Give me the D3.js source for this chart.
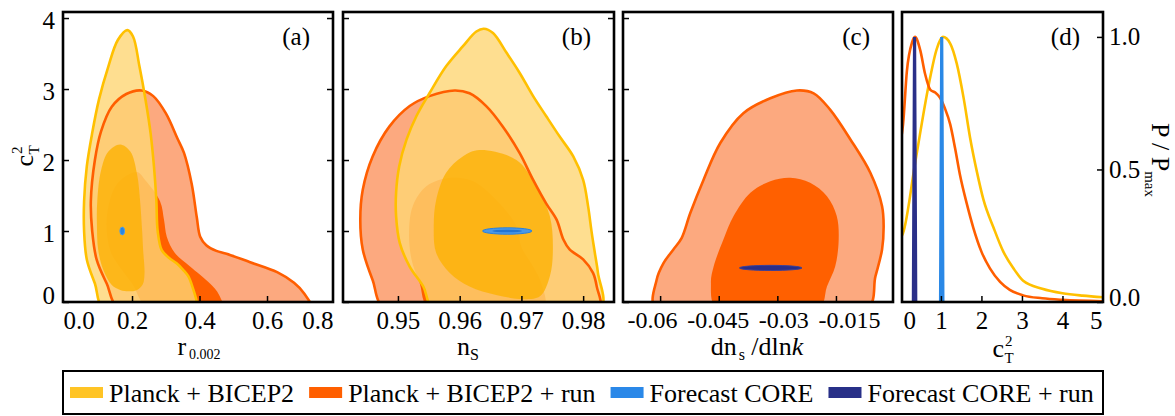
<!DOCTYPE html>
<html>
<head>
<meta charset="utf-8">
<script src="https://cdn.jsdelivr.net/npm/d3@7"></script>
<style>
  body { margin: 0; background: #fff; }
  svg { display: block; font-family: "Liberation Serif", "Times New Roman", serif; }
</style>
</head>
<body>
<svg id="chart" width="1175" height="416"></svg>
<script>
// ---- tick values ----
const rTicks = [0.0, 0.2, 0.4, 0.6, 0.8];
const nsTicks = [0.95, 0.96, 0.97, 0.98];
const runTicks = [-0.06, -0.045, -0.03, -0.015];
const c2Ticks = [0, 1, 2, 3, 4];
const c1Ticks = [0, 1, 2, 3, 4, 5];
const pTicks = [0.0, 0.5, 1.0];

// ---- legend ----
const legendNames = ["Planck + BICEP2", "Planck + BICEP2 + run", "Forecast CORE", "Forecast CORE + run"];
const legendColors = ["#ffc425", "#ff5f00", "#2a88e8", "#283088"];

// ---- panel (a): r_0.002 vs c_T^2 ----
const aPlanckOuter = [[0.118,-0.1],[0.09,0.26],[0.066,0.6],[0.058,1.0],[0.058,1.42],[0.066,1.91],[0.082,2.38],[0.102,2.85],[0.13,3.32],[0.158,3.69],[0.186,3.83],[0.203,3.74],[0.222,3.32],[0.24,2.85],[0.255,2.38],[0.265,1.91],[0.272,1.44],[0.276,1.0],[0.288,0.73],[0.31,0.62],[0.332,0.545],[0.352,0.45],[0.367,0.36],[0.382,0.17],[0.392,0.0],[0.394,-0.1]];
const aPlanckInner = [[0.165,2.22],[0.195,2.12],[0.215,1.8],[0.224,1.42],[0.23,1.0],[0.233,0.73],[0.237,0.4],[0.232,0.25],[0.215,0.17],[0.19,0.15],[0.165,0.17],[0.14,0.24],[0.115,0.45],[0.1,0.73],[0.096,1.1],[0.097,1.42],[0.108,1.85],[0.13,2.12]];
const aRunOuter = [[0.165,-0.1],[0.125,0.26],[0.095,0.6],[0.082,1.0],[0.078,1.42],[0.09,2.0],[0.108,2.4],[0.14,2.75],[0.183,2.93],[0.228,2.98],[0.263,2.9],[0.3,2.66],[0.335,2.3],[0.354,2.1],[0.377,1.66],[0.392,1.19],[0.402,0.92],[0.42,0.8],[0.45,0.72],[0.48,0.68],[0.55,0.56],[0.63,0.42],[0.68,0.27],[0.71,0.12],[0.73,-0.1]];
const aRunInner = [[0.25,-0.1],[0.2,0.26],[0.155,0.55],[0.135,0.73],[0.125,1.19],[0.155,1.66],[0.214,1.83],[0.24,1.71],[0.283,1.42],[0.295,1.15],[0.303,0.92],[0.327,0.69],[0.372,0.5],[0.431,0.26],[0.458,0.1],[0.468,-0.1]];
const aCore = [0.171, 1.0, 0.007, 0.055];     // cx, cy, rx, ry

// ---- panel (b): n_s vs c_T^2 ----
const bPlanckOuter = [[0.9559,-0.1],[0.9541,0.22],[0.9519,0.5],[0.9503,0.83],[0.9497,1.21],[0.9497,1.54],[0.9502,1.91],[0.9514,2.29],[0.953,2.62],[0.9551,2.94],[0.9578,3.32],[0.9605,3.6],[0.9627,3.81],[0.9639,3.85],[0.9654,3.79],[0.9676,3.51],[0.9697,3.23],[0.9719,2.9],[0.974,2.62],[0.9762,2.33],[0.9784,2.05],[0.98,1.72],[0.9808,1.35],[0.9814,0.97],[0.9819,0.69],[0.9824,0.41],[0.9828,-0.1]];
const bPlanckInner = [[0.9632,2.14],[0.9692,2.0],[0.9724,1.63],[0.9746,1.21],[0.9751,0.74],[0.9746,0.36],[0.973,0.08],[0.9703,0.04],[0.9659,0.1],[0.9616,0.22],[0.9584,0.41],[0.9562,0.69],[0.9558,1.07],[0.9562,1.44],[0.9578,1.82],[0.9605,2.05]];
const bRunOuter = [[0.948,-0.1],[0.9459,0.31],[0.9443,0.74],[0.9439,1.16],[0.9443,1.58],[0.9459,2.05],[0.9486,2.47],[0.9519,2.76],[0.9551,2.9],[0.9592,2.98],[0.9616,2.94],[0.9643,2.76],[0.967,2.47],[0.9697,2.1],[0.9719,1.72],[0.974,1.39],[0.9757,1.16],[0.9768,0.88],[0.9778,0.74],[0.98,0.6],[0.9816,0.41],[0.9822,0.22],[0.9825,-0.1]];
const bRunInner = [[0.9551,-0.1],[0.9535,0.27],[0.9522,0.6],[0.9518,0.97],[0.9524,1.35],[0.9546,1.63],[0.9584,1.75],[0.9622,1.7],[0.9659,1.44],[0.9692,1.07],[0.97,0.78],[0.9719,0.5],[0.9732,0.27],[0.9736,-0.1]];
const bCore = [0.9677, 1.0, 0.0040, 0.045];
const bCoreInner = [0.9677, 1.0, 0.0024, 0.018];

// ---- panel (c): dn_s/dlnk vs c_T^2 ----
const cRunOuter = [[-0.0611,-0.1],[-0.0609,0.31],[-0.0591,0.55],[-0.0566,0.74],[-0.0545,0.9],[-0.0523,1.25],[-0.0489,1.72],[-0.0446,2.24],[-0.0387,2.66],[-0.0318,2.87],[-0.025,2.98],[-0.0207,2.94],[-0.0165,2.71],[-0.0113,2.29],[-0.0062,1.82],[-0.0032,1.35],[-0.0028,1.07],[-0.0032,0.74],[-0.0049,0.36],[-0.0071,-0.1]];
const cRunInner = [[-0.0455,-0.1],[-0.047,0.27],[-0.0463,0.5],[-0.0438,0.88],[-0.0412,1.21],[-0.0369,1.54],[-0.0318,1.7],[-0.0267,1.75],[-0.0216,1.68],[-0.0173,1.49],[-0.0148,1.21],[-0.0143,0.88],[-0.0152,0.5],[-0.0173,0.22],[-0.0194,-0.1]];
const cCoreRun = [-0.0317, 0.48, 0.0080, 0.036];

// ---- panel (d): 1D posteriors of c_T^2 ----
const dPlanckC = [0, 0.066, 0.37, 0.7, 0.9, 1.05, 1.23, 1.39, 1.56, 1.72, 1.89, 2.05, 2.3, 2.54, 2.79, 3.03, 3.5, 4.0, 4.5, 5.0];
const dPlanckP = [0.24, 0.26, 0.53, 0.82, 0.956, 1.0, 0.975, 0.9, 0.77, 0.62, 0.49, 0.386, 0.28, 0.19, 0.127, 0.08, 0.05, 0.033, 0.024, 0.018];
const dRunC = [0, 0.066, 0.16, 0.29, 0.36, 0.49, 0.61, 0.74, 0.86, 0.98, 1.1, 1.23, 1.35, 1.47, 1.64, 1.8, 2.0, 2.21, 2.46, 2.7, 3.03, 3.5, 4.0, 5.0];
const dRunP = [0.6, 0.67, 0.87, 0.98, 1.0, 0.95, 0.86, 0.8, 0.79, 0.77, 0.73, 0.67, 0.58, 0.48, 0.37, 0.28, 0.19, 0.127, 0.076, 0.046, 0.025, 0.014, 0.008, 0.003];
const dCoreC = [0.99, 1.02, 1.05];
const dCoreP = [-0.02, 1.0, -0.02];
const dCoreRunC = [0.32, 0.35, 0.38];
const dCoreRunP = [-0.02, 1.0, -0.02];

// ---- colours ----
const runOuterFill = "#fca97f", runInnerFill = "#ff6000", runLine = "#ff5e00";
const planckOuterFill = "rgb(254,214,116)", planckInnerFill = "rgb(253,177,4)", planckLine = "#ffc000";
const serif = "Liberation Serif, Times New Roman, serif";

const svg = d3.select("#chart").attr("font-family", serif);
const plotTop = 12, plotBottom = 302;
const yC = d3.scaleLinear().domain([0, 4.085]).range([plotBottom, plotTop]);
const yP = d3.scaleLinear().domain([0, 1.094]).range([plotBottom, plotTop]);

const panels = [
  { id: "a", x: d3.scaleLinear().domain([-0.0045, 0.7955]).range([63, 333]), ticks: rTicks, fmt: d3.format(".1f"), rightTicks: true, font: 25 },
  { id: "b", x: d3.scaleLinear().domain([0.9411, 0.9850]).range([343, 614]), ticks: nsTicks, fmt: d3.format(".2f"), rightTicks: true, font: 25 },
  { id: "c", x: d3.scaleLinear().domain([-0.0695, -0.0004]).range([623, 893]), ticks: runTicks, fmt: d => String(d), rightTicks: false, font: 24,
    labelShift: [-8, -1, 6, 13] },   // the printed labels are spread a little wider than the ticks
  { id: "d", x: d3.scaleLinear().domain([0.04, 5.0]).range([902, 1103]), ticks: c1Ticks, fmt: d3.format("d"), font: 25 }
];

const defs = svg.append("defs");
panels.forEach(p => {
  const [x0, x1] = p.x.range();
  defs.append("clipPath").attr("id", "clip-" + p.id)
    .append("rect").attr("x", x0).attr("y", plotTop).attr("width", x1 - x0).attr("height", plotBottom - plotTop);
});

function closedPath(x, pts) {
  return d3.line().x(d => x(d[0])).y(d => yC(d[1])).curve(d3.curveCatmullRomClosed.alpha(0.5))(pts);
}

function drawContours(p, g, sets) {
  const x = p.x;
  if (sets.runOuter) g.append("path").attr("d", closedPath(x, sets.runOuter)).attr("fill", runOuterFill);
  if (sets.runInner) g.append("path").attr("d", closedPath(x, sets.runInner)).attr("fill", runInnerFill);
  if (sets.planckOuter) g.append("path").attr("d", closedPath(x, sets.planckOuter)).attr("fill", planckOuterFill).attr("fill-opacity", 0.8);
  if (sets.planckInner) g.append("path").attr("d", closedPath(x, sets.planckInner)).attr("fill", planckInnerFill).attr("fill-opacity", 0.8);
  if (sets.runOuter) g.append("path").attr("d", closedPath(x, sets.runOuter)).attr("fill", "none").attr("stroke", runLine).attr("stroke-width", 2.6);
  if (sets.planckOuter) g.append("path").attr("d", closedPath(x, sets.planckOuter)).attr("fill", "none").attr("stroke", planckLine).attr("stroke-width", 2.6);
}

function drawEllipse(p, g, e, fill, stroke) {
  const [cx, cy, rx, ry] = e;
  g.append("ellipse")
    .attr("cx", p.x(cx)).attr("cy", yC(cy))
    .attr("rx", Math.abs(p.x(cx + rx) - p.x(cx)))
    .attr("ry", Math.abs(yC(cy + ry) - yC(cy)))
    .attr("fill", fill).attr("stroke", stroke || "none").attr("stroke-width", 1);
}

const layers = panels.map(p => svg.append("g").attr("clip-path", `url(#clip-${p.id})`));

// panel (a)
drawContours(panels[0], layers[0], { runOuter: aRunOuter, runInner: aRunInner, planckOuter: aPlanckOuter, planckInner: aPlanckInner });
drawEllipse(panels[0], layers[0], aCore, "#2a86e0", "#4f9ee8");
// panel (b)
drawContours(panels[1], layers[1], { runOuter: bRunOuter, runInner: bRunInner, planckOuter: bPlanckOuter, planckInner: bPlanckInner });
drawEllipse(panels[1], layers[1], bCore, "#4a98e6", "#2a80dc");
drawEllipse(panels[1], layers[1], bCoreInner, "#2274d2");
// panel (c)
drawContours(panels[2], layers[2], { runOuter: cRunOuter, runInner: cRunInner });
drawEllipse(panels[2], layers[2], cCoreRun, "#2a2e88", "#3a3f99");

// panel (d)
const pd = panels[3];
const smooth = d3.line().x(d => pd.x(d[0])).y(d => yP(d[1])).curve(d3.curveMonotoneX);
const straight = d3.line().x(d => pd.x(d[0])).y(d => yP(d[1]));
layers[3].append("path").attr("d", smooth(d3.zip(dPlanckC, dPlanckP))).attr("fill", "none").attr("stroke", planckLine).attr("stroke-width", 2.6);
layers[3].append("path").attr("d", smooth(d3.zip(dRunC, dRunP))).attr("fill", "none").attr("stroke", runLine).attr("stroke-width", 2.6);
layers[3].append("path").attr("d", straight(d3.zip(dCoreRunC, dCoreRunP))).attr("fill", "none").attr("stroke", "#2a2f88").attr("stroke-width", 3.2);
layers[3].append("path").attr("d", straight(d3.zip(dCoreC, dCoreP))).attr("fill", "none").attr("stroke", "#2a88e6").attr("stroke-width", 3.2);

// ---- axes ----
function styleText(sel, size) {
  sel.attr("font-size", size).attr("font-family", serif).attr("fill", "#000");
}
panels.forEach((p, i) => {
  const [x0, x1] = p.x.range();
  const ax = svg.append("g").attr("transform", `translate(0,${plotBottom})`)
    .call(d3.axisBottom(p.x).tickValues(p.ticks).tickFormat(p.fmt).tickSizeInner(-6).tickSizeOuter(0).tickPadding(9));
  ax.attr("font-family", serif);
  ax.select(".domain").remove();
  ax.selectAll("line").attr("stroke", "#000").attr("stroke-width", 1.5);
  styleText(ax.selectAll("text"), p.font);
  if (p.labelShift) ax.selectAll("text").attr("dx", (d, k) => p.labelShift[k]);
  if (p.id === "a" || p.id === "d") {
    const ends = p.ticks;
    ax.selectAll(".tick").filter(d => d === ends[0]).select("text").attr("text-anchor", "start").attr("x", x0 - p.x(ends[0]) + (p.id === "d" ? 1 : 0));
    ax.selectAll(".tick").filter(d => d === ends[ends.length - 1]).select("text").attr("text-anchor", "end").attr("x", x1 - p.x(ends[ends.length - 1]) + (p.id === "d" ? -1 : 0));
    ax.selectAll(".tick").filter(d => d === ends[0] || d === ends[ends.length - 1]).select("line").remove();
  }

  if (p.id !== "d") {
    const la = svg.append("g").attr("transform", `translate(${x0},0)`)
      .call(d3.axisLeft(yC).tickValues(c2Ticks).tickSizeInner(-6).tickSizeOuter(0).tickPadding(8)
        .tickFormat(i === 0 ? d3.format("d") : ""));
    la.attr("font-family", serif);
    la.select(".domain").remove();
    la.selectAll("line").attr("stroke", "#000").attr("stroke-width", 1.5);
    styleText(la.selectAll("text"), 25);
    la.selectAll("text").attr("dy", d => d === 0 ? "0.06em" : "0.42em");
    if (p.rightTicks) {
      const ra = svg.append("g").attr("transform", `translate(${x1},0)`)
        .call(d3.axisRight(yC).tickValues(c2Ticks.slice(1)).tickSizeInner(-6).tickSizeOuter(0).tickFormat(""));
      ra.select(".domain").remove();
      ra.selectAll("line").attr("stroke", "#000").attr("stroke-width", 1.5);
    }
  } else {
    const ra = svg.append("g").attr("transform", `translate(${x1},0)`)
      .call(d3.axisRight(yP).tickValues(pTicks).tickFormat(d3.format(".1f")).tickSizeInner(-6).tickSizeOuter(0).tickPadding(6));
    ra.attr("font-family", serif);
    ra.select(".domain").remove();
    ra.selectAll("line").attr("stroke", "#000").attr("stroke-width", 1.5);
    styleText(ra.selectAll("text"), 25);
    ra.selectAll("text").attr("dy", d => d === 0 ? "0.12em" : "0.32em");
  }

  // frame
  svg.append("rect").attr("x", x0).attr("y", plotTop).attr("width", x1 - x0).attr("height", plotBottom - plotTop)
    .attr("fill", "none").attr("stroke", "#000").attr("stroke-width", 2.6);

  // panel letter
  svg.append("text").attr("x", x1 - 23).attr("y", 45).attr("text-anchor", "end")
    .attr("font-size", 25).text(`(${p.id})`);
});

// ---- axis titles ----
const tA = svg.append("text").attr("x", 199).attr("y", 355).attr("text-anchor", "middle").attr("font-size", 26);
tA.append("tspan").text("r");
tA.append("tspan").attr("font-size", 14).attr("dx", 3).attr("dy", 4).text("0.002");

const tB = svg.append("text").attr("x", 468).attr("y", 355).attr("text-anchor", "middle").attr("font-size", 26);
tB.append("tspan").text("n");
tB.append("tspan").attr("font-size", 16).attr("dy", 5).text("S");

const tC = svg.append("text").attr("x", 757).attr("y", 355).attr("text-anchor", "middle").attr("font-size", 26);
tC.append("tspan").text("dn");
tC.append("tspan").attr("font-size", 16).attr("dx", 2).attr("dy", 5).text("s");
tC.append("tspan").attr("dy", -5).text(" /dln");
tC.append("tspan").attr("font-style", "italic").text("k");

const tD = svg.append("text").attr("x", 1003).attr("y", 357).attr("text-anchor", "middle").attr("font-size", 26);
tD.append("tspan").text("c");
tD.append("tspan").attr("font-size", 15).attr("dx", 1).attr("dy", -11).text("2");
tD.append("tspan").attr("font-size", 15).attr("dx", -8).attr("dy", 17).text("T");

const yA = svg.append("text").attr("transform", "translate(33,156) rotate(-90)").attr("text-anchor", "middle").attr("font-size", 26);
yA.append("tspan").text("c");
yA.append("tspan").attr("font-size", 15).attr("dx", 1).attr("dy", -11).text("2");
yA.append("tspan").attr("font-size", 15).attr("dx", -8).attr("dy", 17).text("T");

const yD = svg.append("text").attr("transform", "translate(1152,160) rotate(90)").attr("text-anchor", "middle").attr("font-size", 26);
yD.append("tspan").text("P / P");
yD.append("tspan").attr("font-size", 15).attr("dy", 7).text("max");

// ---- legend ----
svg.append("rect").attr("x", 63).attr("y", 371).attr("width", 1040).attr("height", 43)
  .attr("fill", "none").attr("stroke", "#000").attr("stroke-width", 2);
let lx = 70;
legendNames.forEach((name, i) => {
  svg.append("rect").attr("x", lx).attr("y", 387).attr("width", 33).attr("height", 11).attr("fill", legendColors[i]);
  const t = svg.append("text").attr("x", lx + 39).attr("y", 402).attr("font-size", 26).text(name);
  lx = lx + 39 + t.node().getComputedTextLength() + 15;
});
</script>
</body>
</html>
